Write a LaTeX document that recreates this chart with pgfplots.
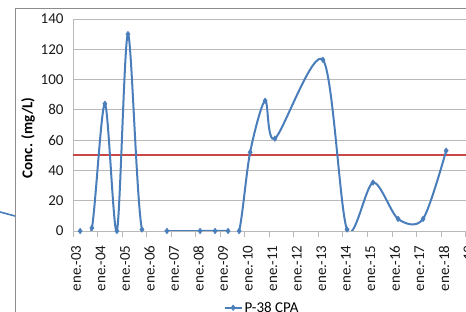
\documentclass[border=0pt]{standalone}
\usepackage{pgfplots}
\pgfplotsset{compat=1.18}
\usepackage{fontspec}
\setmainfont{Carlito}
\definecolor{xlblue}{RGB}{74,126,187}
\definecolor{xlred}{RGB}{200,72,70}
\definecolor{gridg}{RGB}{185,185,185}
\definecolor{frameg}{RGB}{140,140,140}
\begin{document}
\begin{tikzpicture}[x=1pt,y=1pt]
\path[use as bounding box] (0,0) rectangle (466,312);
\draw[frameg, line width=0.8pt] (15,-2) -- (15,304) -- (470,304);
\draw[xlblue, line width=1.6pt] (0,100) -- (15,96);
\begin{axis}[
  at={(73pt,81pt)}, anchor=south west,
  scale only axis, width=404.8pt, height=212pt,
  xmin=2003, xmax=2019.5, ymin=0, ymax=140,
  ytick={0,20,...,140},
  xtick={2003,...,2019},
  xticklabels={ene.-03,ene.-04,ene.-05,ene.-06,ene.-07,ene.-08,ene.-09,ene.-10,ene.-11,ene.-12,ene.-13,ene.-14,ene.-15,ene.-16,ene.-17,ene.-18,ene.-19},
  x tick label style={xshift=3pt, yshift=-5pt, rotate=90, anchor=east},
  axis lines*=left,
  axis line style={gridg, line width=0.8pt},
  ymajorgrids, grid style={gridg, line width=0.8pt},
  ytick style={draw=none},
  xtick style={gridg, line width=0.8pt},
  tick align=outside, major tick length=6pt,
  tick label style={font=\fontsize{15}{18}\selectfont, black!90},
  /pgf/number format/assume math mode=true,
  ylabel={\bfseries Conc. (mg/L)},
  ylabel style={at={(axis description cs:-0.111,0.44)}, anchor=center, font=\fontsize{15}{18}\selectfont},
  legend style={draw=none, fill=none, at={(axis description cs:0.467,-0.362)}, anchor=center, font=\fontsize{15}{18}\selectfont},
  legend cell align=left,
]
\addplot[xlred, line width=2pt, forget plot] coordinates {(2003,50) (2019.5,50)};
\addplot[xlblue, line width=2pt, smooth, tension=0.5, mark=diamond*, mark size=2.8pt, mark options={fill=xlblue, draw=xlblue, line width=0.5pt}] coordinates {
(2003.29,0) (2003.77,2) (2004.30,84) (2004.79,0) (2005.24,130) (2005.81,1)
(2006.83,0) (2008.18,0) (2008.79,0) (2009.32,0) (2009.77,0) (2010.22,52)
(2010.83,86) (2011.23,61) (2013.19,113) (2014.17,1) (2015.23,32) (2016.25,8)
(2017.27,8) (2018.21,53)
};
\addlegendentry{P-38 CPA}
\end{axis}
\end{tikzpicture}
\end{document}
